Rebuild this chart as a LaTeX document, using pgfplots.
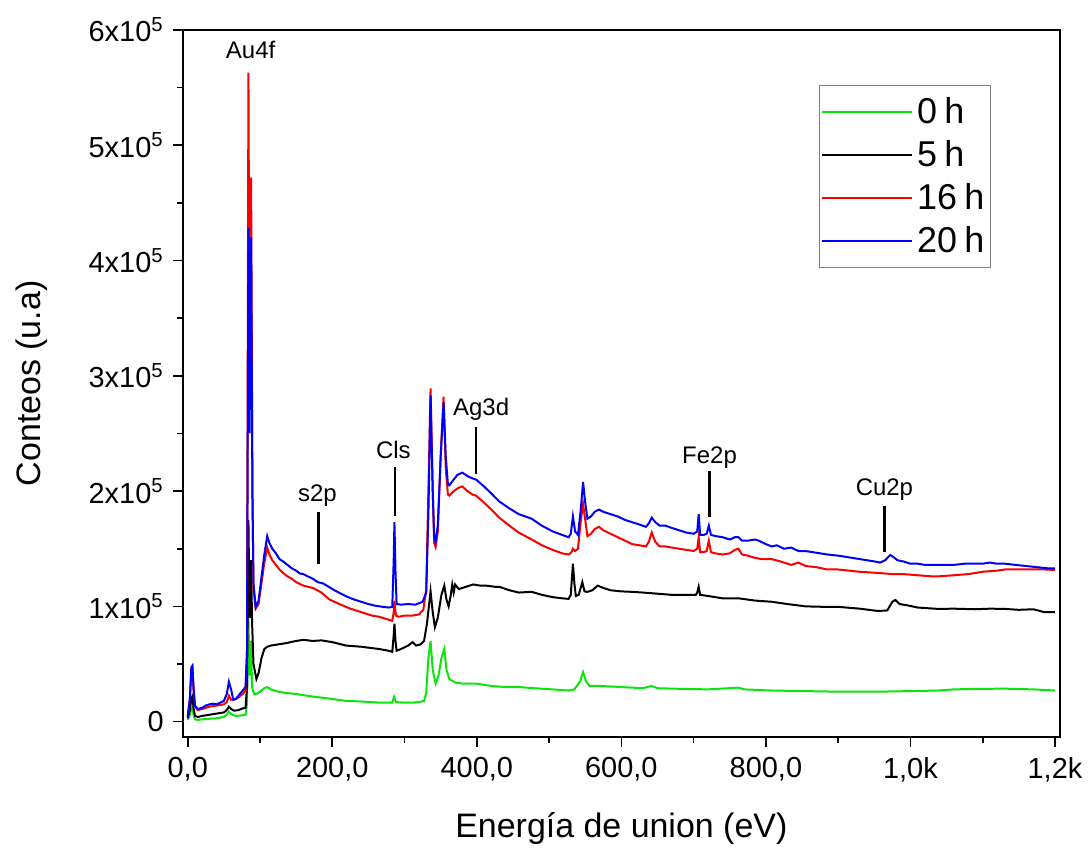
\documentclass[border=0pt]{standalone}
\usepackage{pgfplots}
\pgfplotsset{compat=1.18}
\usepackage{pgfplotstable}
\usepackage{fontspec}
\setmainfont{Liberation Sans}
\definecolor{cgreen}{RGB}{10,230,10}
\definecolor{cred}{RGB}{250,0,0}
\definecolor{cblue}{RGB}{0,0,250}

\pgfplotstableread{
E C
0 1500
3 6000
5 11000
6.5 12000
8 6000
10 2000
14 1500
20 2000
30 2500
40 3000
50 4000
54 6000
57 8700
60 6500
66 5000
76 5500
80 6000
82 15000
84 90000
85.5 40000
87.7 70000
89 30000
92 24000
95 24000
100 26000
106 29000
110 30000
115 28000
125 26000
135 25000
150 24000
170 22000
190 20500
219 18000
240 17500
265 16500
283 16500
285.5 21600
288 17000
300 16500
311 16500
320 17000
327 18000
330 25000
333 55000
336 70000
339 45000
343 33000
347 40000
351 55000
355 63000
358 45000
362 37000
370 34000
380 33000
399 33000
420 31000
440 30000
458 30000
480 29000
505 28000
527 27000
535 28000
543 35000
547 43000
551 35000
556 31000
570 31000
600 30000
630 29000
642 31000
650 29000
680 28500
720 28000
762 29500
770 28000
808 27000
855 26500
900 26000
955 26000
1000 26500
1038 27000
1060 28000
1100 28500
1131 28600
1170 28000
1200 27000
}\greendata

\pgfplotstableread{
E C
0 3000
3 10000
5 20000
6.5 22000
8 12000
10 5000
14 4000
20 5000
30 6000
40 7000
50 8000
54 10000
57 13000
60 11000
64 9500
70 10000
76 11500
80 12000
82 30000
84 175000
85.5 90000
87.7 140000
89 86600
91 50000
95 37000
98 42000
102 55000
106 63000
110 65000
115 66000
125 67000
135 68000
150 70000
160 71000
173 70000
185 70500
200 69000
219 66000
240 65000
265 63000
278 61500
283 60600
285 75000
286 85000
287.5 70000
289 61500
295 63000
305 66000
311 69000
316 66000
322 67000
327 70000
331 85000
336 113000
339 95000
342 82000
346 90000
351 110000
355 118000
358 106000
361 100000
364 110000
366 119000
368 112000
370 119000
375 115000
385 117000
395 119000
405 118000
413 118000
425 117000
431 117000
445 114000
458 112000
476 112600
490 110000
505 108000
518 107000
527 106500
530 110000
533 137000
535 120000
537 109000
541 110000
546 121000
549 113000
553 112600
560 114000
567 118000
575 116000
585 114000
600 113000
615 112600
630 112000
650 111000
670 110000
690 110000
703 110000
705 112000
707 117000
709 110000
720 109000
740 107000
762 107000
785 105000
808 104000
830 102000
855 100000
880 99600
900 99600
930 98000
955 96000
968 96500
975 104000
979 105600
985 102000
995 101000
1010 99000
1038 97800
1060 98000
1090 97500
1110 98000
1131 97800
1150 97000
1170 97500
1185 95000
1200 95000
}\blackdata

\pgfplotstableread{
E C
0 5000
3 20000
5 45000
6.5 47000
8 28000
10 13000
14 10000
20 11000
30 13000
40 14000
50 15000
54 17000
57 22500
60 19000
67 19500
76 24000
80 27000
82 60000
84 563000
85.5 300000
87.7 472000
89.5 200000
91 115000
94 98000
98 102000
102 120000
106 138000
110 151000
113 145000
117 140000
122 136000
127 132000
132 129000
138 126000
144 124000
150 121000
160 118000
173 116000
185 112000
196 106000
210 102000
225 98000
240 95000
255 92000
265 91000
275 89000
283 87400
285 95000
286 105000
288 92000
292 91000
300 92000
311 92000
320 93000
326 97000
330 115000
333 200000
336 289000
339 200000
341 155000
343 151500
346 165000
350 230000
354 282000
357 220000
360 197000
362 196000
368 200000
375 203000
380 204000
387 200000
394 197000
399 196000
410 190000
420 184000
431 177000
445 170000
458 164000
476 158000
490 153000
505 149000
518 146000
527 145000
531 147000
533 150000
536 148000
540 150000
544 175000
547 189000
550 175000
553 161000
558 163000
563 167000
569 169000
575 166000
585 163000
595 160000
605 157000
615 154000
625 153000
634 152000
638 156000
642 164000
647 156000
653 152000
661 152000
670 151000
680 150000
690 149000
700 148000
705 150000
707 160000
709 147000
714 147000
718 148000
721 157000
724 147000
730 146000
740 145000
750 146000
757 149000
762 150000
767 145000
775 144000
785 142000
795 141000
808 141000
820 139000
835 136000
845 138000
855 135000
870 134000
885 132000
900 132000
915 131000
930 130000
955 129000
975 128000
990 128000
1010 127000
1030 126000
1038 126000
1060 127000
1080 128000
1100 130000
1120 131000
1131 132000
1150 132000
1170 132000
1185 132000
1200 131600
}\reddata

\pgfplotstableread{
E C
0 4000
3 20000
5 47000
6.5 48500
8 30000
10 14000
14 11000
20 12000
25 14000
30 15000
35 15600
40 15000
45 16500
50 18000
54 24000
57 34600
60 28000
63 19000
67 20000
72 24000
76 27000
80 30000
82 60000
84 428000
85.5 250000
87.7 420000
89.5 200000
91 120000
94 99600
98 105000
102 125000
106 145000
110 161000
113 155000
117 150000
122 146000
127 141000
132 139000
138 136000
144 133000
150 131000
155 128500
160 128000
166 126000
173 124000
180 121000
187 120000
195 117000
203 114000
212 111000
220 108500
230 106000
240 104000
250 102000
260 100500
270 99600
278 99000
283 99500
285 140000
286 173000
287.5 130000
289 102000
295 101500
305 102000
315 101500
325 104000
330 112000
333 180000
336 283000
339 200000
341 160000
343 156000
346 170000
350 230000
354 277000
357 230000
360 206000
362 205000
368 210000
373 214000
380 216000
387 213000
394 211000
399 210000
410 204000
420 198000
431 191000
445 185000
458 180000
476 176000
490 170000
505 165000
518 162000
527 160000
530 163000
533 178000
536 165000
540 162000
544 185000
547 208000
550 190000
553 176000
558 178000
563 182000
569 184000
575 182000
585 180000
595 178000
605 175000
615 173000
625 171000
634 169000
638 172000
642 177000
647 173000
653 170000
661 170000
670 168000
680 166000
690 164000
700 163000
705 165000
707 180000
709 162000
714 162000
718 163000
721 170000
724 162000
730 161000
740 160000
750 158000
757 160000
762 160000
767 157000
775 157000
785 158000
790 157000
800 154000
808 152000
815 153000
825 150000
835 151000
845 148000
855 148000
865 147000
875 146000
885 145000
900 144000
910 143000
920 142000
930 141000
940 140000
950 139000
958 138000
965 140000
972 144600
976 143000
982 140000
990 139000
1000 137000
1010 137000
1020 136000
1030 136000
1038 136000
1050 136000
1060 136000
1075 137000
1090 137000
1100 137000
1110 138000
1120 137000
1131 137000
1145 136000
1160 135000
1175 134000
1190 133000
1200 133000
}\bluedata

\begin{document}
\begin{tikzpicture}
\begin{axis}[
  scale only axis,
  width=439.5pt, height=354pt,
  xmin=-7, xmax=1207,
  ymin=-13000, ymax=600000,
  axis line style={line width=1pt},
  every tick/.style={black, line width=0.8pt},
  tick align=outside,
  major tick length=5pt,
  minor tick length=3pt,
  xtick pos=bottom, ytick pos=left,
  xtick={0,200,400,600,800,1000,1200},
  xticklabels={{0,0}, {200,0}, {400,0}, {600,0}, {800,0}, {1,0k}, {1,2k}},
  minor x tick num=1,
  ytick={0,100000,200000,300000,400000,500000,600000},
  yticklabels={0, 1x10\textsuperscript{5}, 2x10\textsuperscript{5}, 3x10\textsuperscript{5}, 4x10\textsuperscript{5}, 5x10\textsuperscript{5}, 6x10\textsuperscript{5}},
  minor y tick num=1,
  scaled ticks=false,
  ticklabel style={font=\fontsize{14.5}{17}\selectfont},
  xticklabel style={yshift=-2pt},
  yticklabel style={xshift=-1pt},
  xlabel={Energía de union (eV)},
  ylabel={Conteos (u.a)},
  label style={font=\fontsize{17}{20}\selectfont},
  xlabel style={at={(axis description cs:0.5,-0.13)}, anchor=center},
  ylabel style={at={(axis description cs:-0.172,0.5)}, anchor=center},
  clip=false,
  legend cell align=left,
  legend style={at={(axis description cs:0.9215,0.9223)}, anchor=north east,
    draw=gray, line width=0.8pt, fill=white,
    font=\fontsize{18}{21}\selectfont,
    inner xsep=1pt, inner ysep=4pt, row sep=3pt,
    nodes={inner xsep=2pt}},
  legend image code/.code={\draw[#1, line width=1pt] (0pt,0pt) -- (45pt,0pt);},
]
\path (axis description cs:-0.2082,-0.1511) rectangle (axis description cs:1.0307,1.0424);
\addplot[cgreen, line width=1pt] table[x=E,y=C] {\greendata};
\addlegendentry{0\hspace{0.2em}h}
\addplot[black, line width=1pt] table[x=E,y=C] {\blackdata};
\addlegendentry{5\hspace{0.2em}h}
\addplot[cred, line width=1pt] table[x=E,y=C] {\reddata};
\addlegendentry{16\hspace{0.2em}h}
\addplot[cblue, line width=1pt] table[x=E,y=C] {\bluedata};
\addlegendentry{20\hspace{0.2em}h}

\begin{scope}[font=\fontsize{12}{15}\selectfont]
\node at (axis cs:87,582700) {Au4f};
\node at (axis cs:179.5,196500) {s2p};
\draw[line width=1.2pt] (axis cs:181,181800) -- (axis cs:181,136800);
\node at (axis cs:284.5,235500) {Cls};
\draw[line width=1.2pt] (axis cs:287,220800) -- (axis cs:287,178400);
\node at (axis cs:406,271000) {Ag3d};
\draw[line width=1.2pt] (axis cs:399,256000) -- (axis cs:399,214700);
\node at (axis cs:722,229400) {Fe2p};
\draw[line width=1.2pt] (axis cs:722,217000) -- (axis cs:722,177500);
\node at (axis cs:964,201700) {Cu2p};
\draw[line width=1.2pt] (axis cs:964,187000) -- (axis cs:964,147000);
\end{scope}
\end{axis}
\end{tikzpicture}
\end{document}
